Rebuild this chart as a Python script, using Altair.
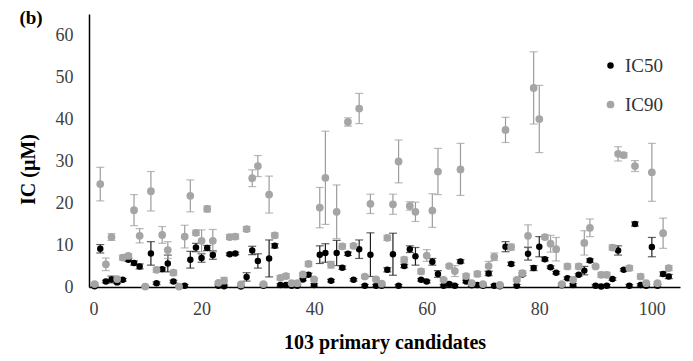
import altair as alt
import pandas as pd

candidates = list(range(1, 104))

ic50 = [0.2, 9.1, 1.3, 1.8, 1.1, 1.7, 6.5, 5.7, 4.9, 0.1,
        8.0, 0.9, 4.2, 5.6, 1.3, 0.1, 0.3, 6.5, 9.4, 6.9,
        9.3, 7.6, 0.3, 0.2, 7.8, 8.0, 0.1, 2.4, 8.7, 6.2,
        0.3, 6.8, 9.8, 0.5, 0.5, 0.3, 0.3, 1.8, 2.9, 0.5,
        7.7, 8.1, 1.5, 8.1, 4.6, 7.9, 1.7, 9.0, 0.3, 7.7,
        0.3, 0.3, 4.1, 7.8, 0.3, 5.0, 9.0, 7.3, 1.7, 1.3,
        6.0, 3.1, 0.3, 0.7, 0.3, 6.1, 1.3, 0.4, 0.5, 0.3,
        3.2, 0.3, 0.2, 9.6, 5.5, 0.3, 3.0, 7.9, 4.5, 9.6,
        6.6, 4.7, 3.4, 0.4, 2.1, 0.5, 2.9, 3.9, 6.3, 0.3,
        0.1, 0.3, 1.9, 8.7, 4.1, 0.3, 15.0, 0.5, 0.3, 9.5,
        0.3, 3.1, 2.5]

ic50_err = [0.3, 1.0, 0.3, 0.8, 0.3, 0.3, 0.4, 0.5, 0.6, 0.1,
            2.8, 0.3, 0.4, 2.0, 0.3, 0.1, 0.3, 2.0, 1.0, 1.0,
            0.6, 1.0, 0.3, 0.3, 0.3, 0.3, 0.1, 1.0, 1.0, 1.7,
            0.3, 4.4, 0.5, 0.3, 0.3, 0.3, 0.3, 0.3, 0.4, 0.3,
            2.1, 2.2, 0.3, 3.0, 0.4, 0.4, 0.3, 2.2, 0.3, 5.2,
            0.3, 0.3, 0.5, 5.0, 0.3, 0.4, 0.8, 2.1, 0.3, 0.3,
            0.8, 0.8, 0.3, 0.3, 0.3, 0.4, 0.3, 0.3, 0.3, 0.3,
            0.5, 0.3, 0.3, 1.2, 0.4, 0.3, 0.3, 1.5, 0.6, 2.4,
            0.4, 0.3, 0.3, 0.3, 0.3, 0.3, 0.3, 1.0, 0.4, 0.3,
            0.3, 0.3, 0.3, 1.1, 0.3, 0.3, 0.5, 0.3, 0.3, 2.3,
            0.3, 0.5, 0.5]

ic90 = [0.7, 24.5, 5.4, 11.9, 1.9, 7.0, 7.4, 18.3, 12.2, 0.1,
        22.8, 4.1, 12.4, 8.8, 3.4, 0.1, 12.0, 21.7, 12.9, 11.0,
        18.6, 11.0, 1.0, 1.5, 11.9, 12.0, 0.6, 13.8, 25.9, 28.8,
        0.7, 22.0, 12.3, 2.2, 2.6, 0.9, 0.9, 3.0, 5.5, 1.8,
        18.9, 26.0, 5.3, 17.9, 9.7, 39.3, 9.8, 42.5, 2.5, 19.8,
        1.8, 0.8, 11.7, 19.7, 29.9, 6.5, 19.3, 17.9, 3.7, 7.5,
        18.2, 27.5, 1.7, 5.0, 3.8, 28.0, 2.6, 0.9, 3.1, 0.7,
        5.0, 7.2, 0.5, 37.4, 9.5, 1.7, 3.3, 12.2, 47.4, 40.0,
        11.9, 10.3, 9.0, 0.7, 4.9, 1.7, 4.9, 10.5, 14.1, 4.9,
        2.9, 2.9, 9.4, 31.7, 31.4, 4.5, 28.8, 2.5, 0.9, 27.3,
        0.9, 12.8, 4.5]

ic90_err = [0.3, 4.0, 1.5, 0.8, 0.4, 0.6, 0.5, 3.7, 1.7, 0.1,
            4.7, 0.6, 2.0, 2.0, 0.6, 0.1, 2.7, 3.8, 0.6, 2.6,
            0.7, 2.7, 0.3, 0.8, 0.6, 0.6, 0.3, 0.6, 2.0, 2.5,
            0.3, 4.4, 0.6, 0.5, 0.6, 0.3, 0.3, 0.4, 0.6, 0.3,
            4.8, 11.1, 0.8, 6.4, 0.6, 1.0, 0.5, 3.6, 0.4, 2.3,
            0.3, 0.3, 0.6, 2.4, 5.1, 0.6, 1.0, 2.3, 0.6, 1.4,
            4.0, 5.5, 0.3, 0.4, 1.3, 6.2, 0.6, 0.3, 0.6, 0.3,
            1.1, 0.9, 0.3, 3.0, 0.7, 0.3, 0.6, 2.6, 8.6, 8.0,
            0.5, 2.0, 2.8, 0.3, 0.6, 0.3, 0.6, 2.9, 2.1, 0.3,
            0.6, 0.6, 0.6, 1.7, 0.6, 0.6, 1.3, 0.6, 0.3, 6.9,
            0.3, 3.6, 0.6]

series_names = ["IC50", "IC90"]
marker_colors = ["#000000", "#a5a5a5"]
bar_colors = ["#1f1f1f", "#9c9c9c"]

rows = []
for s, vals, errs in [("IC50", ic50, ic50_err), ("IC90", ic90, ic90_err)]:
    for c, v, e in zip(candidates, vals, errs):
        rows.append({"cand": c, "series": s, "value": v,
                     "lo": max(0.0, v - e), "hi": v + e})
df = pd.DataFrame(rows)

FONT = "Liberation Serif"

x_axis = alt.Axis(values=[0, 20, 40, 60, 80, 100], title="103 primary candidates",
                  grid=False, ticks=False, domainColor="#000000", domainWidth=1.5,
                  labelFont=FONT, labelFontSize=18, labelColor="#404040", labelPadding=13,
                  titleFont=FONT, titleFontSize=20, titleFontWeight="bold", titleColor="#000000",
                  titleY=55, titleBaseline="middle")
y_axis = alt.Axis(values=[0, 10, 20, 30, 40, 50, 60], title="IC (µM)",
                  grid=False, ticks=False, domainColor="#000000", domainWidth=1.5,
                  labelFont=FONT, labelFontSize=18, labelColor="#404040", labelPadding=16,
                  titleFont=FONT, titleFontSize=20, titleFontWeight="bold", titleColor="#000000",
                  titleX=-61, titleY=155, titleAngle=270, titleBaseline="middle", titleAlign="center")

x_scale = alt.Scale(domain=[0, 105], nice=False)
y_scale = alt.Scale(domain=[0, 65], nice=False)

X = alt.X("cand:Q", scale=x_scale, axis=x_axis)

base = alt.Chart(df)

layers = []
for s, bc in zip(series_names, bar_colors):
    f = base.transform_filter(alt.datum.series == s)
    layers.append(f.mark_rule(color=bc, strokeWidth=1.2).encode(
        x=X, y=alt.Y("lo:Q", scale=y_scale, axis=y_axis), y2="hi:Q"))
    layers.append(f.mark_tick(color=bc, orient="horizontal", size=8, thickness=1.2).encode(
        x=X, y=alt.Y("lo:Q", scale=y_scale, axis=y_axis)))
    layers.append(f.mark_tick(color=bc, orient="horizontal", size=8, thickness=1.2).encode(
        x=X, y=alt.Y("hi:Q", scale=y_scale, axis=y_axis)))

points = base.mark_circle(opacity=1).encode(
    x=X,
    y=alt.Y("value:Q", scale=y_scale, axis=y_axis),
    color=alt.Color("series:N", scale=alt.Scale(domain=series_names, range=marker_colors),
                    legend=alt.Legend(title=None, orient="none", legendX=512, legendY=42,
                                      labelFont=FONT, labelFontSize=19, labelColor="#333333",
                                      symbolType="circle", symbolSize=22, symbolStrokeWidth=0,
                                      rowPadding=19, labelOffset=5, padding=0)),
    size=alt.Size("series:N", scale=alt.Scale(domain=series_names, range=[42, 60]), legend=None),
)
layers.append(points)

tag = alt.Chart(df).mark_text(text="(b)", font=FONT, fontSize=19, fontWeight="bold",
                              color="#000000", align="center", baseline="middle").encode(
    x=alt.value(-58), y=alt.value(4))
layers.append(tag.transform_filter(alt.datum.cand == 1).transform_filter(alt.datum.series == "IC50"))

chart = alt.layer(*layers).properties(
    width=591, height=273,
    autosize=alt.AutoSizeParams(type="none"),
    padding={"left": 81, "top": 6, "right": 5, "bottom": 70},
).configure(
    background="white", font=FONT
).configure_view(
    stroke=None
).configure_axis(
    labelFont=FONT, titleFont=FONT
).configure_legend(
    labelFont=FONT
)

chart.save("out.html", embed_options={"renderer": "svg", "actions": False})
